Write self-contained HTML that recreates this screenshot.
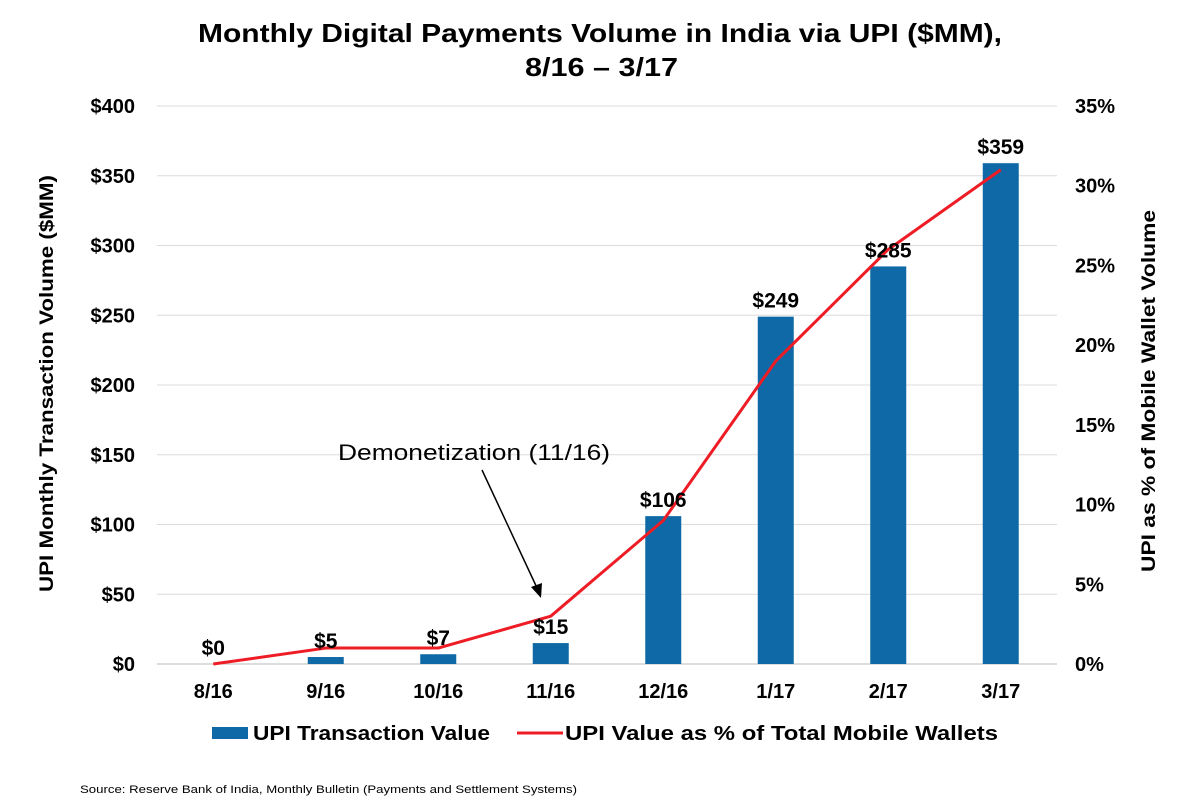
<!DOCTYPE html>
<html><head><meta charset="utf-8"><style>
body{margin:0;background:#fff;font-family:"Liberation Sans",Arial,sans-serif;}
svg text{font-family:"Liberation Sans",Arial,sans-serif;}
</style></head><body>
<svg id="chart" width="1200" height="805" viewBox="0 0 1200 805" xmlns="http://www.w3.org/2000/svg">
<text x="198" y="42" font-size="26" font-weight="bold" textLength="804" lengthAdjust="spacingAndGlyphs">Monthly Digital Payments Volume in India via UPI ($MM),</text>
<text x="525" y="76" font-size="26" font-weight="bold" textLength="153" lengthAdjust="spacingAndGlyphs">8/16 – 3/17</text>
<g id="grid"></g><g id="bars"></g><g id="line"></g><g id="labels"></g><g id="axes"></g>
<text transform="translate(53,592) rotate(-90)" font-size="19" font-weight="bold" textLength="417" lengthAdjust="spacingAndGlyphs">UPI Monthly Transaction Volume ($MM)</text>
<text transform="translate(1155,572) rotate(-90)" font-size="19" font-weight="bold" textLength="362" lengthAdjust="spacingAndGlyphs">UPI as % of Mobile Wallet Volume</text>
<text x="338" y="460" font-size="22" textLength="272" lengthAdjust="spacingAndGlyphs">Demonetization (11/16)</text>
<line x1="482" y1="470" x2="538" y2="590" stroke="#000" stroke-width="1.5"/>
<polygon points="541,598 531,587 542,583" fill="#000"/>
<rect x="212" y="727" width="36" height="12" fill="#0e69a6"/>
<text x="253" y="740" font-size="20" font-weight="bold" textLength="237" lengthAdjust="spacingAndGlyphs">UPI Transaction Value</text>
<line x1="517" y1="733" x2="563" y2="733" stroke="#ee1c25" stroke-width="3"/>
<text x="565" y="740" font-size="20" font-weight="bold" textLength="433" lengthAdjust="spacingAndGlyphs">UPI Value as % of Total Mobile Wallets</text>
<text x="80" y="793" font-size="11" textLength="497" lengthAdjust="spacingAndGlyphs">Source: Reserve Bank of India, Monthly Bulletin (Payments and Settlement Systems)</text>
</svg>
<script>
const categories=["8/16","9/16","10/16","11/16","12/16","1/17","2/17","3/17"];
const barValues=[0,5,7,15,106,249,285,359];
const pctValues=[0,1,1,3,9,19,26,31];
const leftTicks=[0,50,100,150,200,250,300,350,400];
const rightTicks=[0,5,10,15,20,25,30,35];
const NS="http://www.w3.org/2000/svg";
const L=157,R=1057,T=106,B=664;
const yL=v=>B-(v/400)*(B-T);
const yR=v=>B-(v/35)*(B-T);
const step=(R-L)/categories.length;
const xC=i=>L+step*(i+0.5);
function mk(tag,attrs,parent,txt){const e=document.createElementNS(NS,tag);for(const k in attrs)e.setAttribute(k,attrs[k]);if(txt!==undefined)e.textContent=txt;document.getElementById(parent).appendChild(e);return e;}
leftTicks.forEach(v=>{
 const g=mk("line",{x1:L,x2:R,y1:yL(v),y2:yL(v),stroke:v===0?"#bbb":"#dcdcdc","stroke-width":1},"grid");
 
 
 const t=mk("text",{x:135,y:yL(v)+7,"text-anchor":"end","font-size":20,"font-weight":"bold"},"axes","$"+v);
 
 
});
rightTicks.forEach(v=>{
 const t=mk("text",{x:1075,y:yR(v)+7,"font-size":20,"font-weight":"bold"},"axes",v+"%");
 
 
});
categories.forEach((c,i)=>{
 const t=mk("text",{x:xC(i),y:698,"text-anchor":"middle","font-size":20,"font-weight":"bold"},"axes",c);
 
 
 const bw=36,v=barValues[i];
 const b=mk("rect",{x:xC(i)-bw/2,y:yL(v),width:bw,height:B-yL(v),fill:"#0e69a6"},"bars");
 
 
 const l=mk("text",{x:xC(i),y:yL(v)-9,"text-anchor":"middle","font-size":21,"font-weight":"bold"},"labels","$"+v);
 
 
});
const pts=pctValues.map((v,i)=>xC(i)+","+yR(v)).join(" ");
const pl=mk("polyline",{points:pts,fill:"none",stroke:"#ee1c25","stroke-width":3,"stroke-linejoin":"round"},"line");


</script>
</body></html>
